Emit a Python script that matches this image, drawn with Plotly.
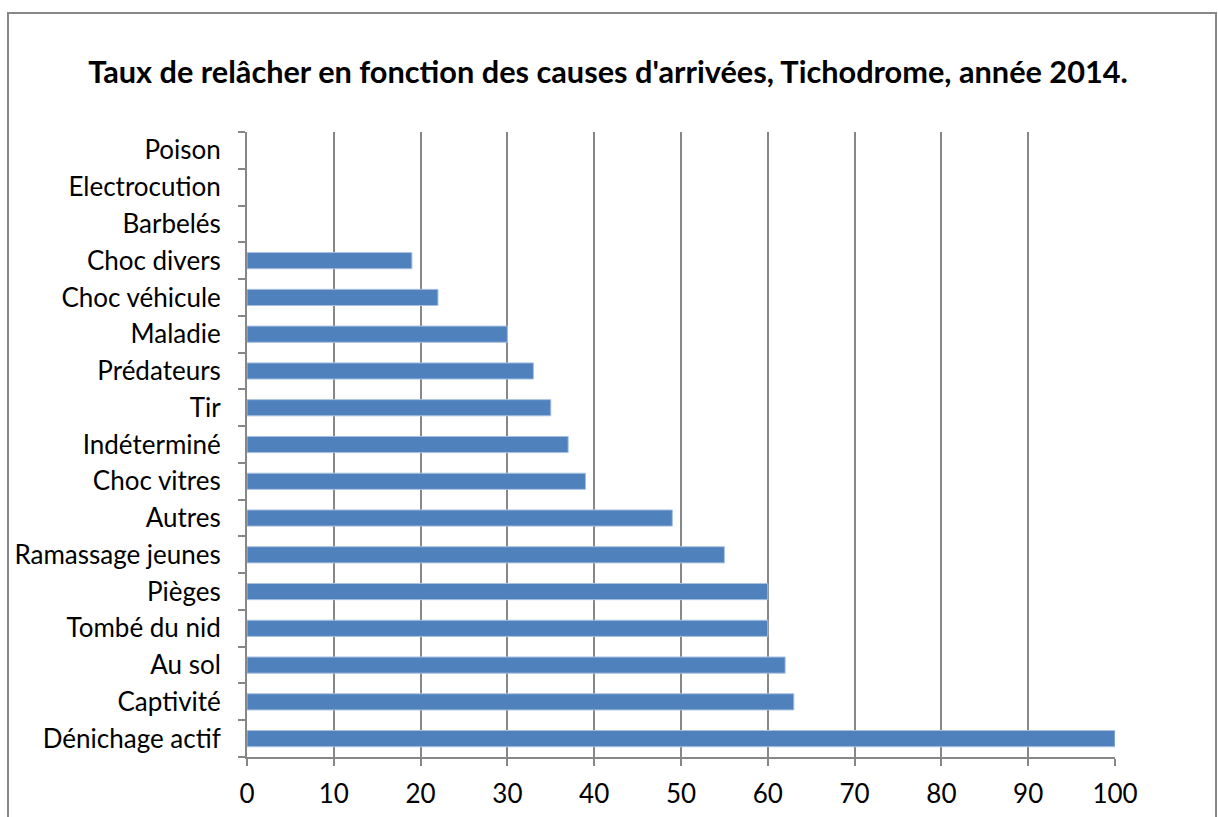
import plotly.graph_objects as go

# causes d'arrivée, de bas en haut
causes = ["Dénichage actif", "Captivité", "Au sol", "Tombé du nid", "Pièges",
          "Ramassage jeunes", "Autres", "Choc vitres", "Indéterminé", "Tir",
          "Prédateurs", "Maladie", "Choc véhicule", "Choc divers", "Barbelés",
          "Electrocution", "Poison"]
taux = [100, 63, 62, 60, 60, 55, 49, 39, 37, 35, 33, 30, 22, 19, 0, 0, 0]
x_ticks = [0, 10, 20, 30, 40, 50, 60, 70, 80, 90, 100]

grey = "#878787"
font = "Lato, Carlito, Calibri, sans-serif"

W, H = 1218, 817
L, T = 247, 132       # coin haut gauche de la zone de tracé
PW, PH = 868, 625

fig = go.Figure(go.Bar(
    x=taux, y=causes, orientation="h",
    marker=dict(color="#4F81BD",
                line=dict(color="#A9C1E0", width=[1 if v > 0 else 0 for v in taux])),
))

fig.update_layout(
    width=W, height=H,
    paper_bgcolor="white", plot_bgcolor="white",
    margin=dict(l=L, r=W - L - PW, t=T, b=H - T - PH, pad=0),
    bargap=0.56,
    showlegend=False,
    title=dict(text="<b>Taux de relâcher en fonction des causes d'arrivées, Tichodrome, année 2014.</b>",
               x=608 / W, xref="container", xanchor="center",
               y=1 - 72 / H, yref="container", yanchor="middle",
               font=dict(family=font, size=30.7, color="black")),
    font=dict(family=font, size=26, color="black"),
)

fig.update_xaxes(range=[0, 100], tickvals=x_ticks, showgrid=True, gridcolor=grey, gridwidth=2,
                 showline=True, linecolor=grey, linewidth=2, ticks="outside", ticklen=7,
                 tickcolor=grey, tickwidth=2, zeroline=False, tickfont=dict(size=26),
                 ticklabelstandoff=6, automargin=False)
fig.update_yaxes(showline=True, linecolor=grey, linewidth=2, ticks="outside", ticklen=7,
                 tickcolor=grey, tickwidth=2, tickson="boundaries", showgrid=False,
                 tickfont=dict(size=26), ticklabelstandoff=19, automargin=False)

# cadre du graphique
fig.add_shape(type="rect", xref="paper", yref="paper",
              x0=(8 - L) / PW, x1=(1216 - L) / PW,
              y0=-0.3, y1=(T + PH - 13) / PH,
              line=dict(color=grey, width=2), layer="below")

# pas de marge autour de la figure dans la page, pas de barre d'outils
fig.write_html("out.html", config={"displayModeBar": False},
               post_script="document.body.style.margin='0';")
